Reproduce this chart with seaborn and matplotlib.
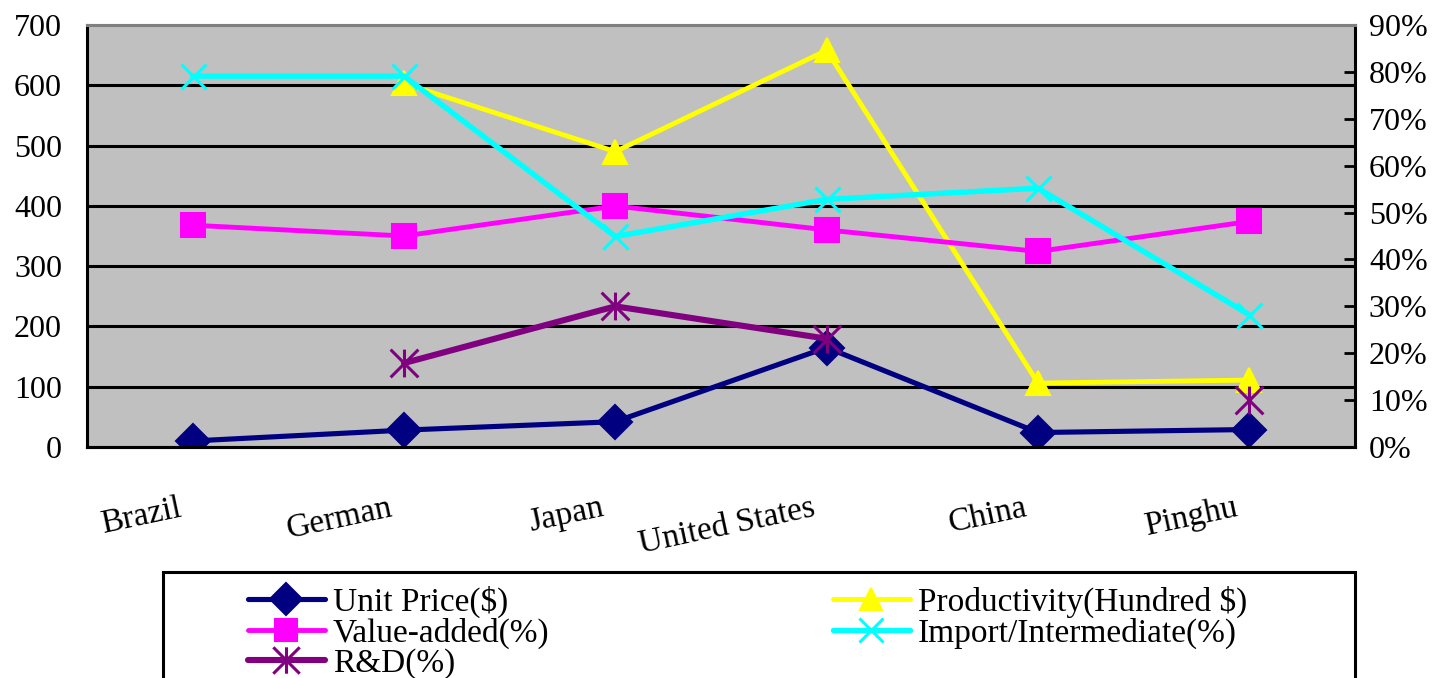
import numpy as np
import pandas as pd
import matplotlib
matplotlib.use("Agg")
import matplotlib.pyplot as plt
from matplotlib.path import Path
from matplotlib.patches import Rectangle
from matplotlib.lines import Line2D
import seaborn as sns

# ---------------- data ----------------
countries = ["Brazil", "German", "Japan", "United States", "China", "Pinghu"]
unit_price = [10, 28, 42, 165, 24, 29]                       # left axis ($)
productivity = [np.nan, 603, 490, 658, 106, 111]             # left axis (hundred $)
value_added = [47.3, 45.0, 51.4, 46.3, 41.7, 48.1]           # right axis (%)
import_inter = [79.1, 79.1, 44.9, 52.8, 55.2, 28.2]          # right axis (%)
rnd = [np.nan, 17.9, 30.0, 23.1, np.nan, 10.0]               # right axis (%)
left_ticks = [0, 100, 200, 300, 400, 500, 600, 700]
right_ticks = [0, 10, 20, 30, 40, 50, 60, 70, 80, 90]

# ---------------- style ----------------
sns.set_theme(style="white")
plt.rcParams["font.family"] = ["Liberation Serif", "DejaVu Serif"]
plt.rcParams["text.color"] = "black"
plt.rcParams["xtick.color"] = "black"
plt.rcParams["ytick.color"] = "black"
FS = 23

fig = plt.figure(figsize=(14.47, 6.78), dpi=100)
ax = fig.add_axes([87 / 1447, 1 - 447 / 678, (1355 - 87) / 1447, (447 - 25) / 678])
ax.set_facecolor("#C0C0C0")
ax2 = ax.twinx()
ax2.set_facecolor("none")

xpos = np.arange(len(countries))

ast = Path([(0, -1), (0, 1), (-1, -1), (1, 1), (-1, 1), (1, -1)],
           [Path.MOVETO, Path.LINETO, Path.MOVETO, Path.LINETO, Path.MOVETO, Path.LINETO])

series = [
    ("Unit Price($)", unit_price, ax, "#000080", "D", 3.7, 17, True),
    ("Productivity(Hundred $)", productivity, ax, "#FFFF00", "^", 3.5, 17, True),
    ("Value-added(%)", value_added, ax2, "#FF00FF", "s", 3.5, 17, True),
    ("Import/Intermediate(%)", import_inter, ax2, "#00FFFF", "x", 3.9, 18, False),
    ("R&D(%)", rnd, ax2, "#800080", ast, 4.4, 20, False),
]

handles = {}
for name, vals, a, col, mk, lw, ms, filled in series:
    v = np.array(vals, dtype=float)
    seg = np.cumsum(np.isnan(v))
    df = pd.DataFrame({"x": xpos, "y": v, "seg": seg}).dropna()
    kw = dict(marker=mk, markersize=ms, markeredgewidth=1.5 if filled else 2.2,
              markerfacecolor=col if filled else "none", markeredgecolor=col)
    sns.lineplot(data=df, x="x", y="y", units="seg", estimator=None, ax=a,
                 color=col, linewidth=lw, legend=False, **kw)
    handles[name] = Line2D([], [], color=col, linewidth=lw, label=name,
                           marker=mk, markersize=ms * 0.95,
                           markerfacecolor=col if filled else "none",
                           markeredgecolor=col,
                           markeredgewidth=1.5 if filled else 2.2)

# ---------------- axes ----------------
ax.set_xlim(-0.5, len(countries) - 0.5)
ax.set_ylim(left_ticks[0], left_ticks[-1])
ax2.set_ylim(right_ticks[0], right_ticks[-1])
ax.set_xlabel("")
ax.set_ylabel("")
ax2.set_ylabel("")

ax.set_yticks(left_ticks)
ax.set_yticklabels([str(t) for t in left_ticks], fontsize=FS)
ax2.set_yticks(right_ticks)
ax2.set_yticklabels([f"{t}%" for t in right_ticks], fontsize=FS)

ax.hlines(left_ticks[1:-1], -0.5, len(countries) - 0.5, color="black", linewidth=2.2, zorder=0.5)

ax.set_xticks(xpos[:-1] + 0.5)
ax.set_xticklabels([])
ax.set_xticks(xpos - 0.04, minor=True)
ax.set_xticklabels(countries, minor=True, fontsize=FS + 1, rotation=12, ha="right", va="top")

ax.tick_params(axis="x", which="major", direction="in", length=8, width=2, color="black")
ax.tick_params(axis="x", which="minor", length=0, pad=33)
ax.tick_params(axis="y", direction="in", length=8, width=2, color="black", pad=18,
               left=True, right=False)
ax2.tick_params(axis="y", direction="in", length=8, width=2, color="black", pad=10,
                right=True, left=False)

for a in (ax, ax2):
    for s in ("left", "bottom", "right"):
        a.spines[s].set_color("black")
        a.spines[s].set_linewidth(2.2)
    a.spines["top"].set_color("#808080")
    a.spines["top"].set_linewidth(2.2)
ax.spines["right"].set_visible(False)
ax2.spines["left"].set_visible(False)

# ---------------- legend ----------------
fig.patches.append(Rectangle((163 / 1447, -0.05), (1355 - 163) / 1447, (1 - 572 / 678) + 0.05,
                             transform=fig.transFigure, facecolor="white",
                             edgecolor="black", linewidth=2.2, zorder=0))
order = ["Unit Price($)", "Value-added(%)", "R&D(%)",
         "Productivity(Hundred $)", "Import/Intermediate(%)"]
fig.legend(handles=[handles[k] for k in order], loc="upper left",
           bbox_to_anchor=(248 / 1447, 1 - 586 / 678),
           ncol=2, frameon=False, fontsize=FS + 1, handlelength=2.3, handletextpad=0.25,
           labelspacing=-0.02, columnspacing=8.5, borderaxespad=0, borderpad=0)

fig.savefig("out.png", dpi=100)
